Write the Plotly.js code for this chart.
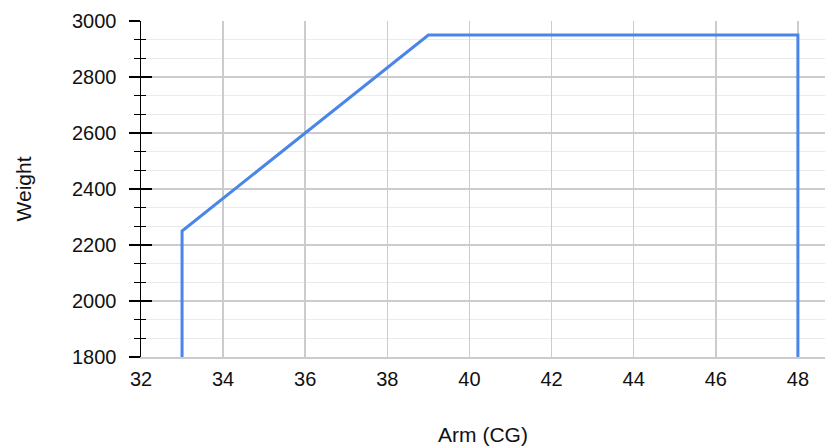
<!DOCTYPE html>
<html>
<head>
<meta charset="utf-8">
<script src="https://cdn.plot.ly/plotly-3.0.1.min.js"></script>
<style>html,body{margin:0;padding:0;background:#fff;}#chart{width:825px;height:448px;}</style>
</head>
<body>
<div id="chart"></div>
<script>
// Envelope points (Arm CG vs Weight)
const arm = [33, 33, 39, 48, 48];
const weight = [1800, 2250, 2950, 2950, 1800];
const xTicks = [32, 34, 36, 38, 40, 42, 44, 46, 48];
const yTicks = [1800, 2000, 2200, 2400, 2600, 2800, 3000];

const fam = '"Liberation Sans", Arial, sans-serif';
const tickFont = {family: fam, size: 20, color: '#111'};
const titleFont = {family: fam, size: 21, color: '#111'};

const data = [
  {x: arm, y: weight, type: 'scatter', mode: 'lines',
   line: {color: '#4a86e8', width: 3}, hoverinfo: 'x+y', showlegend: false},
  {x: [arm[0]], y: [weight[0]], yaxis: 'y2', type: 'scatter', mode: 'markers',
   marker: {opacity: 0}, hoverinfo: 'skip', showlegend: false}
];

const layout = {
  width: 825, height: 448,
  margin: {l: 141, r: 0, t: 21, b: 91, pad: 0},
  paper_bgcolor: '#fff', plot_bgcolor: '#fff',
  font: tickFont,
  xaxis: {
    range: [32, 48.66], tickvals: xTicks, ticktext: xTicks.map(String),
    showgrid: true, gridcolor: '#cccccc', gridwidth: 1.5,
    zeroline: false, showline: true, linecolor: '#cccccc', linewidth: 1.5,
    ticks: '', ticklabelstandoff: 3,
    tickfont: tickFont,
    title: {text: 'Arm (CG)', font: titleFont, standoff: 39}
  },
  yaxis: {
    range: [1800, 3000], tickvals: yTicks, ticktext: yTicks.map(String),
    showgrid: true, gridcolor: '#cccccc', gridwidth: 1.5,
    zeroline: false, showline: true, linecolor: '#000', linewidth: 1.5,
    ticks: 'outside', ticklen: 11, tickwidth: 1.5, tickcolor: '#000',
    tickfont: tickFont, ticklabelstandoff: 8,
    minor: {dtick: 200/3, tick0: 1800, ticks: 'outside', ticklen: 6, tickwidth: 1.5,
            tickcolor: '#000', showgrid: true, gridcolor: '#ebebeb', gridwidth: 1.5},
    title: {text: 'Weight', font: titleFont, standoff: 34}
  },
  yaxis2: {
    range: [1800, 3000], overlaying: 'y', side: 'left', tickvals: yTicks,
    showticklabels: false, showgrid: false, zeroline: false, showline: false,
    ticks: 'inside', ticklen: 11, tickwidth: 1.5, tickcolor: '#000',
    minor: {dtick: 200/3, tick0: 1800, ticks: 'inside', ticklen: 5, tickwidth: 1.5,
            tickcolor: '#000', showgrid: false}
  }
};

Plotly.newPlot('chart', data, layout, {displayModeBar: false, staticPlot: true});
</script>
</body>
</html>
